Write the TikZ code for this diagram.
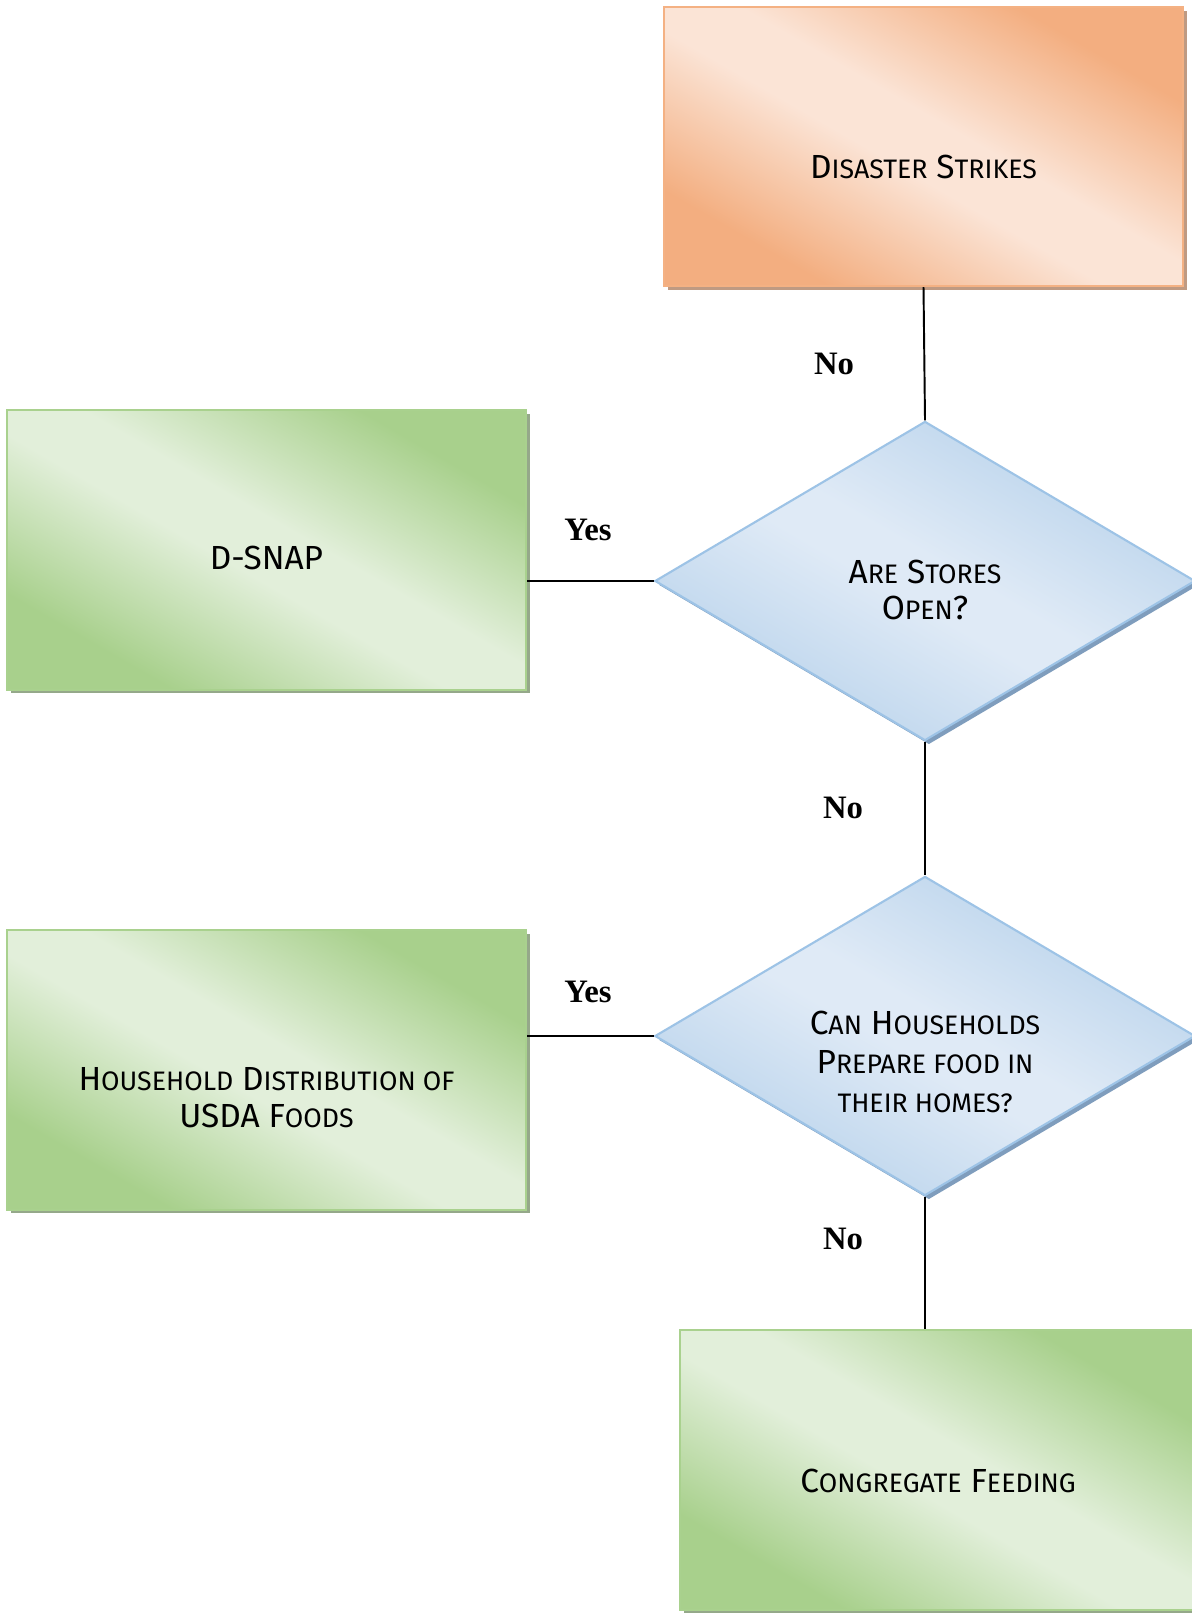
\documentclass[tikz,border=0pt]{standalone}
\usepackage{fontspec}
\setmainfont{Fira Sans}
\newfontfamily\labfont{Liberation Serif}
\usetikzlibrary{shapes.geometric,shadows}
\definecolor{ordark}{HTML}{F3AE80}
\definecolor{orlight}{HTML}{FBE4D6}
\definecolor{orborder}{HTML}{F4B183}
\definecolor{orshadow}{HTML}{BF9A82}
\definecolor{grdark}{HTML}{A8D08C}
\definecolor{grlight}{HTML}{E2EFDA}
\definecolor{grborder}{HTML}{A9D18E}
\definecolor{grshadow}{HTML}{95A88A}
\definecolor{bldark}{HTML}{BBD4EC}
\definecolor{bllight}{HTML}{DFEAF6}
\definecolor{blborder}{HTML}{9DC3E6}
\definecolor{blshadow}{HTML}{7F9DBD}
\pgfdeclareverticalshading{orsh}{100bp}{color(0bp)=(ordark); color(27bp)=(ordark); color(46bp)=(orlight); color(54bp)=(orlight); color(73bp)=(ordark); color(100bp)=(ordark)}
\pgfdeclareverticalshading{grsh}{100bp}{color(0bp)=(grdark); color(27bp)=(grdark); color(46bp)=(grlight); color(54bp)=(grlight); color(73bp)=(grdark); color(100bp)=(grdark)}
\pgfdeclareverticalshading{blsh}{100bp}{color(0bp)=(bldark); color(27bp)=(bldark); color(47bp)=(bllight); color(53bp)=(bllight); color(73bp)=(bldark); color(100bp)=(bldark)}
\newcommand\smc[1]{{\fontsize{7.6}{11}\selectfont #1}}
\tikzset{
  box/.style={rectangle, inner sep=0pt, minimum width=5.19cm, minimum height=2.79cm, line width=0.6pt},
  orbox/.style={box, draw=orborder, shading=orsh, shading angle=-30,
    drop shadow={shadow xshift=1.1pt, shadow yshift=-1.1pt, fill=orshadow, opacity=1}},
  grbox/.style={box, draw=grborder, shading=grsh, shading angle=-30,
    drop shadow={shadow xshift=1.1pt, shadow yshift=-1.1pt, fill=grshadow, opacity=1}},
  decision/.style={diamond, inner sep=0pt, minimum width=5.4cm, minimum height=3.19cm,
    line width=0.6pt, draw=blborder, shading=blsh, shading angle=-30,
    drop shadow={shadow xshift=1.1pt, shadow yshift=-1.1pt, fill=blshadow, opacity=1}},
  txt/.style={font=\fontsize{9.5}{11}\selectfont, align=center, inner sep=0pt},
  lab/.style={font=\labfont\bfseries\fontsize{9.3}{11}\selectfont, inner sep=0pt},
  conn/.style={line width=0.55pt, black}
}
\begin{document}
\begin{tikzpicture}[x=0.01cm,y=-0.01cm]
\useasboundingbox[fill=white] (0,0) rectangle (1192,1613);
% boxes
\node[orbox] (dis) at (923.5,146.5) {};
\node[grbox] (dsnap) at (266.5,550) {};
\node[decision] (q1) at (925,581) {};
\node[grbox] (house) at (266.5,1070) {};
\node[decision] (q2) at (925,1036) {};
\node[grbox, minimum width=5.2cm, minimum height=2.8cm] (cong) at (940,1470) {};
% texts
\node[txt] (disT) at (923.5,167.5) {D\smc{ISASTER} S\smc{TRIKES}};
\node[txt] (dsnapT) at (266.5,558) {D-SNAP};
\node[txt, font=\fontsize{9.5}{10.5}\selectfont] (q1T) at (925,590) {A\smc{RE} S\smc{TORES}\\O\smc{PEN}?};
\node[txt, font=\fontsize{9.5}{10.5}\selectfont] (houseT) at (266.5,1098) {H\smc{OUSEHOLD} D\smc{ISTRIBUTION OF}\\USDA F\smc{OODS}};
\node[txt] (q2T) at (925,1062) {C\smc{AN} H\smc{OUSEHOLDS}\\P\smc{REPARE FOOD IN}\\\smc{THEIR HOMES?}};
\node[txt] (congT) at (938,1481) {C\smc{ONGREGATE} F\smc{EEDING}};
% connectors
\draw[conn] (dis.south) -- (q1.north);
\draw[conn] (q1.west) -- (q1.west -| dsnap.east);
\draw[conn] (q1.south) -- (q2.north);
\draw[conn] (q2.west) -- (q2.west -| house.east);
\draw[conn] (q2.south) -- (q2.south |- cong.north);
% labels
\node[lab] (no1) at (834,364) {No};
\node[lab] (yes1) at (588,530) {Yes};
\node[lab] (no2) at (843,808) {No};
\node[lab] (yes2) at (588,992) {Yes};
\node[lab] (no3) at (843,1239) {No};
\end{tikzpicture}
\end{document}
